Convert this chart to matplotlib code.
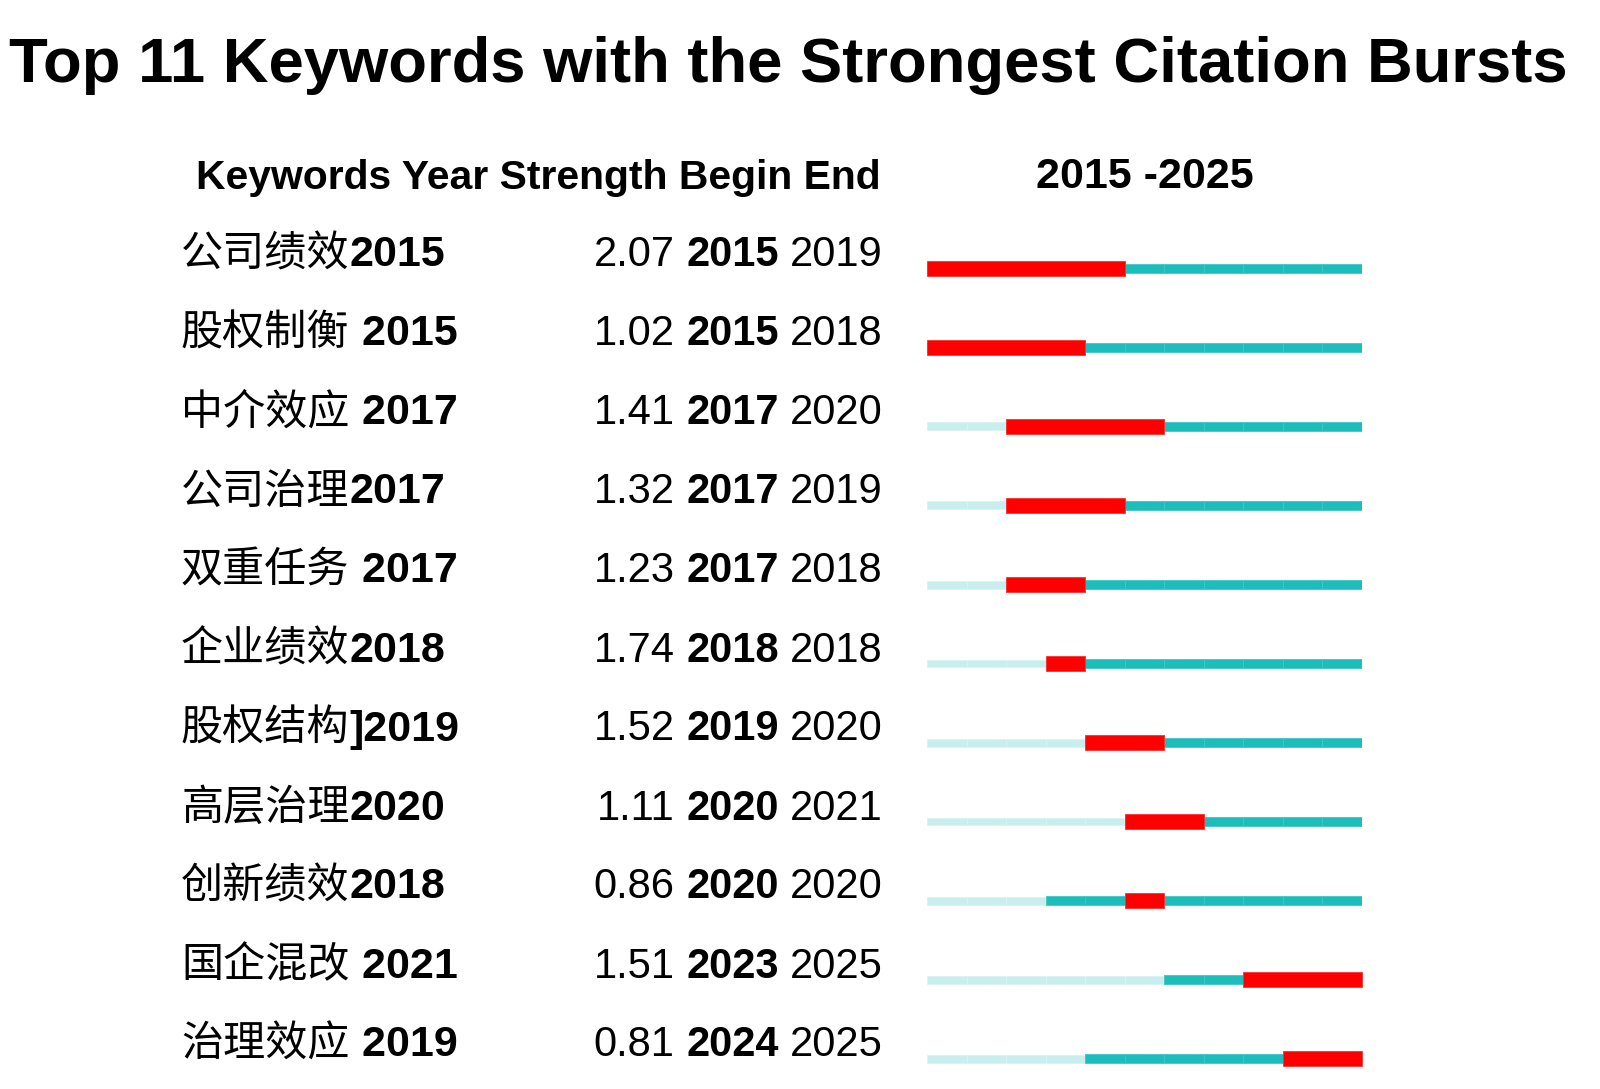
import re
import matplotlib
matplotlib.use("Agg")
import matplotlib.pyplot as plt
import matplotlib.transforms as mtransforms

# -------------------------------------------------
# Data
# -------------------------------------------------

KEYWORDS = ["公司绩效2015", "股权制衡 2015", "中介效应 2017", "公司治理2017",
            "双重任务 2017", "企业绩效2018", "股权结构]2019", "高层治理2020",
            "创新绩效2018", "国企混改 2021", "治理效应 2019"]
FIRST_YEAR = [2015, 2015, 2017, 2017, 2017, 2018, 2019, 2020, 2018, 2021, 2019]
STRENGTH = [2.07, 1.02, 1.41, 1.32, 1.23, 1.74, 1.52, 1.11, 0.86, 1.51, 0.81]
BEGIN = [2015, 2015, 2017, 2017, 2017, 2018, 2019, 2020, 2020, 2023, 2024]
END = [2019, 2018, 2020, 2019, 2018, 2018, 2020, 2021, 2020, 2025, 2025]

START_YEAR = 2015
END_YEAR = 2025

# -------------------------------------------------
# Style
# -------------------------------------------------

RED = "#ff0000"
TEAL = "#1cbdbb"
LIGHT = "#c9eeee"

LATIN = ["Liberation Sans", "DejaVu Sans"]
CJK = ["Noto Sans CJK SC", "DejaVu Sans"]

ROW_FS = 30
CJK_FS = 30.3
W, H = 1600, 1089

fig = plt.figure(figsize=(W / 100, H / 100), dpi=100)

# bar axes: year 2015..2026 spans x 927..1362 px, rows centred at 268.5 + 79*i px
top_px, row_px = 268.5, 79.0
n = len(KEYWORDS)
ax_top = top_px - row_px / 2
ax_bot = top_px + row_px * (n - 1) + row_px / 2
ax = fig.add_axes([927 / W, 1 - ax_bot / H, 435 / W, (ax_bot - ax_top) / H])
ax.set_xlim(START_YEAR, END_YEAR + 1)
ax.set_ylim(n - 0.5, -0.5)
ax.axis("off")

red_h = 15 / row_px
teal_h = 9.5 / row_px
light_h = 8 / row_px

for i in range(n):
    years = range(START_YEAR, END_YEAR + 1)
    light = [(y, 1) for y in years if y < FIRST_YEAR[i]]
    teal = [(y, 1) for y in years if y >= FIRST_YEAR[i]]
    ax.broken_barh(light, (i - light_h / 2, light_h), facecolor=LIGHT,
                   edgecolor="#d9f4f4", linewidth=0.6)
    ax.broken_barh(teal, (i - teal_h / 2, teal_h), facecolor=TEAL,
                   edgecolor="#3cc8c6", linewidth=0.6)
    ax.broken_barh([(BEGIN[i], END[i] - BEGIN[i] + 1)], (i - red_h / 2, red_h),
                   facecolor=RED, edgecolor="#ff3030", linewidth=0.6)

# -------------------------------------------------
# Text
# -------------------------------------------------

fig.text(788 / W, 1 - 66 / H, "Top 11 Keywords with the Strongest Citation Bursts",
         ha="center", va="center", fontsize=45.6, fontweight="bold", family=LATIN)
fig.text(196 / W, 1 - 178 / H, "Keywords Year Strength Begin End",
         ha="left", va="center", fontsize=29.4, fontweight="bold", family=LATIN)
fig.text(1145 / W, 1 - 177 / H, f"{START_YEAR} -{END_YEAR}",
         ha="center", va="center", fontsize=31, fontweight="bold", family=LATIN)

trans = mtransforms.blended_transform_factory(fig.transFigure, ax.transData)
base_off = 2 / row_px

kw_texts = []
for i, kw in enumerate(KEYWORDS):
    m = re.match(r"([\u4e00-\u9fff]+)(.*)", kw)
    name, suffix = m.group(1), m.group(2)
    t = ax.text(181 / W, i - base_off, name, transform=trans, ha="left",
                va="baseline", fontsize=CJK_FS, family=CJK, clip_on=False)
    kw_texts.append((t, suffix, i))

    # right column, built right-to-left
    t_end = ax.text(883 / W, i - base_off, str(END[i]), transform=trans,
                    ha="right", va="baseline", fontsize=ROW_FS, family=LATIN,
                    clip_on=False)
    t_begin = ax.annotate(str(BEGIN[i]), xy=(0, 0), xycoords=t_end,
                          xytext=(-8.3, 0), textcoords="offset points",
                          ha="right", va="bottom", fontsize=ROW_FS,
                          fontweight="bold", family=LATIN)
    ax.annotate(f"{STRENGTH[i]:.2f}", xy=(0, 0), xycoords=t_begin,
                xytext=(-8.3, 0), textcoords="offset points",
                ha="right", va="bottom", fontsize=ROW_FS, family=LATIN)

fig.canvas.draw()
renderer = fig.canvas.get_renderer()
for t, suffix, i in kw_texts:
    bb = t.get_window_extent(renderer)
    ax.text(bb.x1 / W, i - base_off, suffix, transform=trans, ha="left",
            va="baseline", fontsize=ROW_FS + 1, fontweight="bold", family=LATIN,
            clip_on=False)

fig.savefig("out.png", dpi=100, facecolor="white")
